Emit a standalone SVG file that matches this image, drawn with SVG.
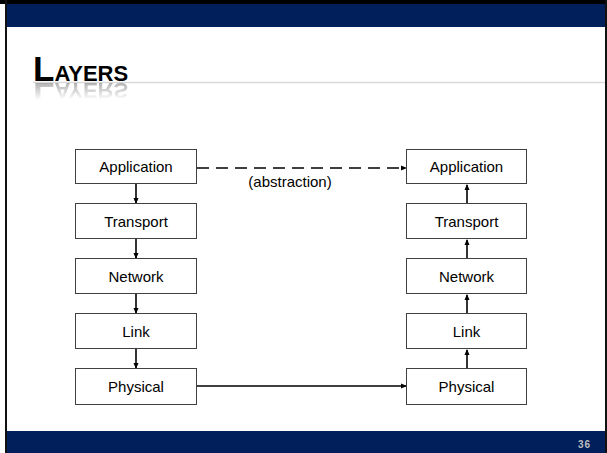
<svg xmlns="http://www.w3.org/2000/svg" xmlns:xlink="http://www.w3.org/1999/xlink" width="607" height="453" viewBox="0 0 607 453">
<style>
.box{fill:#fff;stroke:#404040;stroke-width:1}
.lbl{font-family:"Liberation Sans",Arial,sans-serif;font-size:15px;fill:#000;text-anchor:middle}
.conn{stroke:#000;stroke-width:1.6;fill:none}
.band{fill:#001F5B}
</style>
<defs>
<marker id="ah" markerWidth="6" markerHeight="6" refX="5" refY="3" orient="auto" markerUnits="userSpaceOnUse">
<path d="M0,0.5 L6,3 L0,5.5 z" fill="#000"/>
</marker>
<linearGradient id="fade" x1="0" y1="0" x2="0" y2="1">
<stop offset="0" stop-color="#fff" stop-opacity="0.45"/>
<stop offset="1" stop-color="#fff" stop-opacity="0"/>
</linearGradient>
<mask id="refl" maskUnits="userSpaceOnUse" x="0" y="80" width="200" height="30">
<rect x="0" y="82" width="200" height="18" fill="url(#fade)"/>
</mask>
</defs>
<rect width="607" height="453" fill="#fff"/>
<g id="frame">
<rect x="0" y="0" width="607" height="4" fill="#000"/>
<rect x="5" y="0" width="2" height="453" fill="#111"/>
<rect x="605" y="0" width="2" height="453" fill="#111"/>
<rect class="band" x="7" y="4" width="598" height="23"/>
<rect class="band" x="7" y="431" width="598" height="22"/>
<text x="591" y="448" font-family="'Liberation Sans',Arial,sans-serif" font-size="10" font-weight="bold" fill="#BFBFBF" text-anchor="end" letter-spacing="1">36</text>
</g>
<g id="title">
<line x1="33" y1="82.5" x2="605" y2="82.5" stroke="#D9D9D9" stroke-width="1.5"/>
<text id="ttl" x="33" y="81" font-family="'Liberation Sans',Arial,sans-serif" font-weight="bold" fill="#000"><tspan font-size="35">L</tspan><tspan font-size="22">AYERS</tspan></text>
<g mask="url(#refl)"><use xlink:href="#ttl" transform="translate(0,164) scale(1,-1)" opacity="0.7"/></g>
</g>
<g id="connectors">
<line class="conn" x1="136" y1="184" x2="136" y2="203" marker-end="url(#ah)"/>
<line class="conn" x1="136" y1="239" x2="136" y2="258" marker-end="url(#ah)"/>
<line class="conn" x1="136" y1="294" x2="136" y2="313" marker-end="url(#ah)"/>
<line class="conn" x1="136" y1="349" x2="136" y2="368" marker-end="url(#ah)"/>
<line class="conn" x1="467" y1="368" x2="467" y2="350" marker-end="url(#ah)"/>
<line class="conn" x1="467" y1="313" x2="467" y2="295" marker-end="url(#ah)"/>
<line class="conn" x1="467" y1="258" x2="467" y2="240" marker-end="url(#ah)"/>
<line class="conn" x1="467" y1="203" x2="467" y2="185" marker-end="url(#ah)"/>
<line class="conn" x1="197" y1="386" x2="406" y2="386" marker-end="url(#ah)"/>
<line class="conn" x1="197" y1="168" x2="406" y2="168" stroke-dasharray="12 7" marker-end="url(#ah)"/>
<text class="lbl" x="290" y="187">(abstraction)</text>
</g>
<g id="l-app"><rect class="box" x="75.5" y="149.5" width="121" height="34"/><text class="lbl" x="136" y="172">Application</text></g>
<g id="l-trans"><rect class="box" x="75.5" y="203.5" width="121" height="35"/><text class="lbl" x="136" y="226.5">Transport</text></g>
<g id="l-net"><rect class="box" x="75.5" y="258.5" width="121" height="35"/><text class="lbl" x="136" y="281.5">Network</text></g>
<g id="l-link"><rect class="box" x="75.5" y="313.5" width="121" height="35"/><text class="lbl" x="136" y="336.5">Link</text></g>
<g id="l-phys"><rect class="box" x="75.5" y="368.5" width="121" height="36"/><text class="lbl" x="136" y="392">Physical</text></g>
<g id="r-app"><rect class="box" x="406.5" y="149.5" width="120" height="34"/><text class="lbl" x="466.5" y="172">Application</text></g>
<g id="r-trans"><rect class="box" x="406.5" y="203.5" width="120" height="35"/><text class="lbl" x="466.5" y="226.5">Transport</text></g>
<g id="r-net"><rect class="box" x="406.5" y="258.5" width="120" height="35"/><text class="lbl" x="466.5" y="281.5">Network</text></g>
<g id="r-link"><rect class="box" x="406.5" y="313.5" width="120" height="35"/><text class="lbl" x="466.5" y="336.5">Link</text></g>
<g id="r-phys"><rect class="box" x="406.5" y="368.5" width="120" height="36"/><text class="lbl" x="466.5" y="392">Physical</text></g>
</svg>
